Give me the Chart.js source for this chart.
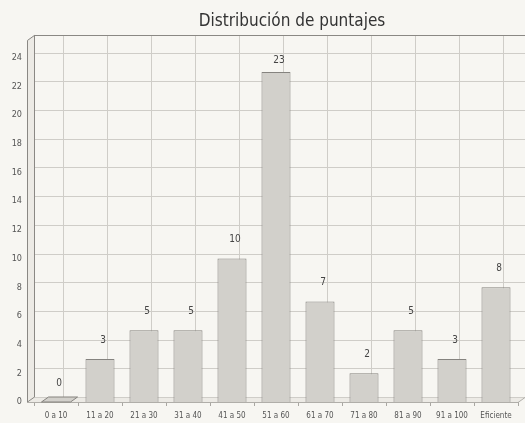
<!DOCTYPE html>
<html>
<head>
<meta charset="utf-8">
<script src="https://cdn.jsdelivr.net/npm/chart.js@4.4.1/dist/chart.umd.min.js"></script>
<style>
  html, body { margin: 0; padding: 0; background: #f7f6f2; }
  #wrap { width: 525px; height: 423px; }
</style>
</head>
<body>
<div id="wrap"><canvas id="c" width="525" height="423"></canvas></div>
<script>
// Score ranges and number of students in each
const categories = ['0 a 10', '11 a 20', '21 a 30', '31 a 40', '41 a 50', '51 a 60',
                    '61 a 70', '71 a 80', '81 a 90', '91 a 100', 'Eficiente'];
const counts = [0, 3, 5, 5, 10, 23, 7, 2, 5, 3, 8];
const chartTitle = 'Distribución de puntajes';
const yMax = 25.2;
const yStep = 2;

const FONT = "'Liberation Sans Narrow', 'DejaVu Sans Condensed', 'Liberation Sans', sans-serif";
const BG = '#f7f6f2';
const BAR_FILL = '#d2d0cb';
const BAR_EDGE = '#85837f';
const GRID = '#cfcdc8';
const FRAME = '#8a8884';
const DX = 7, DY = -5;   // depth offset of the back wall

// Pseudo-3D frame: back wall grid, left wall, floor, plus title and value labels
const frame3d = {
  id: 'frame3d',
  beforeDraw(chart) {
    const ctx = chart.ctx;
    ctx.save();
    ctx.fillStyle = BG;
    ctx.fillRect(0, 0, chart.width, chart.height);
    ctx.restore();
  },
  beforeDatasetsDraw(chart) {
    const { ctx, chartArea: a, scales: { x, y } } = chart;
    ctx.save();
    // left wall
    ctx.fillStyle = '#eceae5';
    ctx.beginPath();
    ctx.moveTo(a.left - DX, a.bottom);
    ctx.lineTo(a.left - DX, a.top);
    ctx.lineTo(a.left, a.top + DY);
    ctx.lineTo(a.left, a.bottom + DY);
    ctx.closePath();
    ctx.fill();
    // floor
    ctx.beginPath();
    ctx.moveTo(a.left - DX, a.bottom);
    ctx.lineTo(a.right, a.bottom);
    ctx.lineTo(a.right + DX, a.bottom + DY);
    ctx.lineTo(a.left, a.bottom + DY);
    ctx.closePath();
    ctx.fill();

    // back wall grid
    ctx.strokeStyle = GRID;
    ctx.lineWidth = 1;
    for (let v = 0; v <= yMax; v += yStep) {
      const py = Math.round(y.getPixelForValue(v) + DY) + 0.5;
      ctx.beginPath();
      ctx.moveTo(a.left, py);
      ctx.lineTo(a.right + DX, py);
      ctx.stroke();
    }
    categories.forEach((_, i) => {
      const px = Math.round(x.getPixelForValue(i) + DX) + 0.5;
      ctx.beginPath();
      ctx.moveTo(px, a.top + DY);
      ctx.lineTo(px, a.bottom + DY);
      ctx.stroke();
    });

    // wall and floor edges
    ctx.strokeStyle = FRAME;
    ctx.beginPath();
    ctx.moveTo(a.left - DX + 0.5, a.bottom);
    ctx.lineTo(a.left - DX + 0.5, a.top);
    ctx.lineTo(a.left + 0.5, a.top + DY);
    ctx.lineTo(a.left + 0.5, a.bottom + DY);
    ctx.lineTo(a.left - DX + 0.5, a.bottom);
    ctx.stroke();
    ctx.beginPath();
    ctx.moveTo(a.left, Math.round(a.top + DY) + 0.5);
    ctx.lineTo(a.right + DX, Math.round(a.top + DY) + 0.5);
    ctx.stroke();
    ctx.strokeStyle = '#b0aea9';
    ctx.beginPath();
    ctx.moveTo(a.left - DX, Math.round(a.bottom) + 0.5);
    ctx.lineTo(a.right, Math.round(a.bottom) + 0.5);
    ctx.lineTo(a.right + DX, Math.round(a.bottom + DY) + 0.5);
    ctx.stroke();
    ctx.restore();
  },
  afterDatasetsDraw(chart) {
    const { ctx, chartArea: a } = chart;
    const meta = chart.getDatasetMeta(0);
    ctx.save();
    meta.data.forEach((bar, i) => {
      const w = bar.width;
      // a zero-height bar shows only its flat top face
      if (Math.abs(bar.base - bar.y) < 1) {
        ctx.fillStyle = BAR_FILL;
        ctx.strokeStyle = BAR_EDGE;
        ctx.beginPath();
        ctx.moveTo(bar.x - w / 2, bar.base);
        ctx.lineTo(bar.x + w / 2, bar.base);
        ctx.lineTo(bar.x + w / 2 + DX, bar.base + DY);
        ctx.lineTo(bar.x - w / 2 + DX, bar.base + DY);
        ctx.closePath();
        ctx.fill();
        ctx.stroke();
      }
      ctx.fillStyle = '#444';
      ctx.font = '10px ' + FONT;
      ctx.textAlign = 'center';
      ctx.textBaseline = 'middle';
      const ly = Math.max(bar.y - 19, a.top + 20);
      ctx.fillText(String(counts[i]), bar.x + 3, ly);
    });
    // title
    ctx.fillStyle = '#333';
    ctx.font = '17px ' + FONT;
    ctx.textAlign = 'center';
    ctx.textBaseline = 'alphabetic';
    ctx.fillText(chartTitle, 292, 26);
    ctx.restore();
  }
};

new Chart(document.getElementById('c'), {
  type: 'bar',
  data: {
    labels: categories,
    datasets: [{
      data: counts,
      backgroundColor: BAR_FILL,
      borderColor: BAR_EDGE,
      borderWidth: 1,
      barPercentage: 0.66,
      categoryPercentage: 1
    }]
  },
  options: {
    responsive: false,
    animation: false,
    layout: { padding: { top: 40.4, right: 7, bottom: 0, left: 0 } },
    plugins: {
      legend: { display: false },
      title: { display: false },
      tooltip: { enabled: false }
    },
    scales: {
      x: {
        offset: true,
        grid: { display: true, drawOnChartArea: false, drawTicks: true, tickLength: 4, color: '#a9a7a2' },
        border: { display: false },
        ticks: { color: '#555', font: { family: FONT, size: 8 }, padding: 5, maxRotation: 0, autoSkip: false },
        afterFit(s) { s.height = 21; }
      },
      y: {
        min: 0,
        max: yMax,
        grid: { display: false, drawTicks: false },
        border: { display: false },
        ticks: { stepSize: yStep, includeBounds: false, color: '#555', font: { family: FONT, size: 9 }, padding: 12 },
        afterFit(s) { s.width = 34; }
      }
    }
  },
  plugins: [frame3d]
});
</script>
</body>
</html>
